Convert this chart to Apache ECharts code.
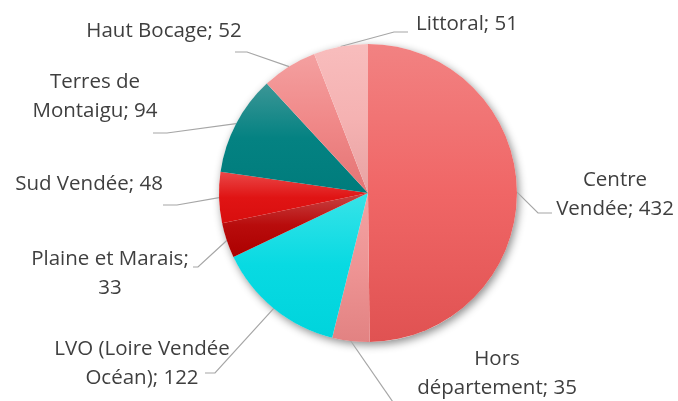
<!DOCTYPE html>
<html>
<head>
<meta charset="utf-8">
<script src="https://cdn.jsdelivr.net/npm/echarts@6/dist/echarts.min.js"></script>
<style>
html,body{margin:0;padding:0;background:#fff;}
#c{width:678px;height:401px;}
</style>
</head>
<body>
<div id="c"></div>
<script>
// ---- data ----
const categories = ["Centre Vendée", "Hors département", "LVO (Loire Vendée Océan)", "Plaine et Marais", "Sud Vendée", "Terres de Montaigu", "Haut Bocage", "Littoral"];
const values = [432, 35, 122, 33, 48, 94, 52, 51];
// label text lines (wrapped as in the reference)
const labelLines = [
  ["Centre", "Vendée; 432"],
  ["Hors", "département; 35"],
  ["LVO (Loire Vendée", "Océan); 122"],
  ["Plaine et Marais;", "33"],
  ["Sud Vendée; 48"],
  ["Terres de", "Montaigu; 94"],
  ["Haut Bocage; 52"],
  ["Littoral; 51"]
];

// ---- styles / layout ----
const gradients = [
  ["#F28282", "#F06666", "#E05252"],
  ["#F2A2A2", "#EE9494", "#E28282"],
  ["#38E3E8", "#08DAE2", "#00D4DC"],
  ["#C84444", "#B80C0C", "#AC0000"],
  ["#EA4848", "#E01414", "#D80E0E"],
  ["#3C9696", "#048282", "#007C7C"],
  ["#F4A0A0", "#F08888", "#E47474"],
  ["#F8BDBD", "#F5B2B2", "#E8A2A2"]
];
const labelLayoutCfg = [
  {x: 615, y: 195, p1: [538, 213], p2: [552, 213]},
  {x: 497, y: 374, p1: [395, 405], p2: [395, 405]},
  {x: 142, y: 364, p1: [215, 373], p2: [205, 373]},
  {x: 110, y: 274, p1: [198, 267], p2: [193, 267]},
  {x: 89,  y: 184, p1: [177, 205], p2: [163, 205]},
  {x: 95,  y: 97,  p1: [167, 133], p2: [153, 133]},
  {x: 164, y: 31,  p1: [247, 52],  p2: [235, 52]},
  {x: 467, y: 24,  p1: [394, 32],  p2: [408, 32]}
];

const CENTER = [368, 193];
const R = 149;

const chart = echarts.init(document.getElementById('c'), null, {renderer: 'canvas'});

const data = categories.map((name, i) => ({
  name: name,
  value: values[i],
  itemStyle: {
    color: new echarts.graphic.LinearGradient(0, 0, 0, 1, [
      {offset: 0, color: gradients[i][0]},
      {offset: 0.5, color: gradients[i][1]},
      {offset: 1, color: gradients[i][2]}
    ])
  }
}));

chart.setOption({
  animation: false,
  series: [
    {
      // shadow underlay
      type: 'pie',
      silent: true,
      center: CENTER,
      radius: R,
      z: 1,
      label: {show: false},
      labelLine: {show: false},
      itemStyle: {
        color: '#ffffff',
        shadowBlur: 9,
        shadowOffsetX: 2,
        shadowOffsetY: 3,
        shadowColor: 'rgba(0,0,0,0.45)'
      },
      data: [{value: 1}]
    },
    {
      type: 'pie',
      center: CENTER,
      radius: R,
      startAngle: 90,
      clockwise: true,
      z: 2,
      avoidLabelOverlap: false,
      itemStyle: {borderWidth: 0},
      label: {
        show: true,
        position: 'outside',
        fontFamily: 'Open Sans',
        fontSize: 20.5,
        lineHeight: 29,
        color: '#3F3F3F',
        formatter: function (p) {
          return labelLines[p.dataIndex].map(s => '{a|' + s + '}').join('\n');
        },
        rich: {
          a: {fontFamily: 'Open Sans', fontSize: 20.5, lineHeight: 29, color: '#3F3F3F', align: 'center'}
        }
      },
      labelLine: {
        show: true,
        length: 15,
        length2: 10,
        smooth: false,
        lineStyle: {color: '#A6A6A6', width: 1.2}
      },
      labelLayout: function (params) {
        const i = params.dataIndex;
        const L = labelLayoutCfg[i];
        const p0 = params.labelLinePoints ? params.labelLinePoints[0] : L.p1;
        return {
          x: L.x,
          y: L.y,
          align: 'center',
          verticalAlign: 'middle',
          labelLinePoints: [p0, L.p1, L.p2]
        };
      },
      data: data
    }
  ]
});
</script>
</body>
</html>
